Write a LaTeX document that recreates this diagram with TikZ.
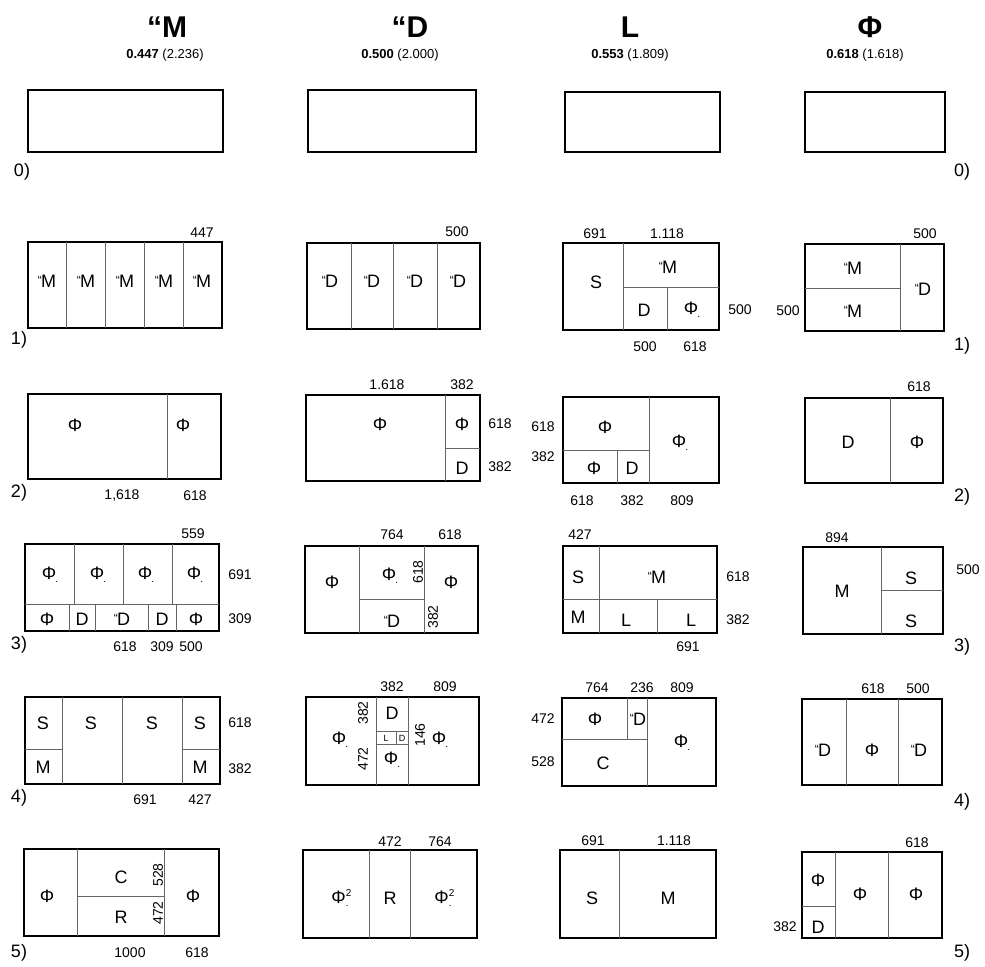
\documentclass[tikz,border=0pt]{standalone}
\usepackage{fontspec}
\setmainfont{Liberation Sans}
\usepackage{tikz}

\newcommand{\Phd}{Φ\kern-0.05em\raisebox{-0.3ex}{\tiny.}}
\newcommand{\Phq}{Φ\rlap{\raisebox{0.8ex}{\tiny 2}}\raisebox{-0.3ex}{\tiny.}}
\newcommand{\qt}{\raisebox{0.25ex}{\fontsize{6}{6}\selectfont “}\kern-0.05em}

\begin{document}
\begin{tikzpicture}[x=0.5pt,y=-0.5pt,
  box/.style={line width=1.25pt},
  part/.style={line width=0.45pt,black!60},
  lab/.style={font=\fontsize{9}{9}\selectfont},
  small/.style={font=\fontsize{4.5}{4.5}\selectfont},
  num/.style={font=\fontsize{7}{7}\selectfont},
  rnum/.style={num,rotate=90},
  idx/.style={font=\fontsize{9}{9}\selectfont},
  head/.style={font=\bfseries\fontsize{15}{15}\selectfont},
  ratio/.style={font=\fontsize{6.5}{6.5}\selectfont}]
  \useasboundingbox (0,0) rectangle (985,967);
  % headers
  \node[head] (hM) at (167,27) {“M};
  \node[head] (hD) at (410,27) {“D};
  \node[head] (hL) at (630,27) {L};
  \node[head] (hF) at (870,27) {Φ};
  \node[ratio] (rM) at (165,55) {\textbf{0.447} (2.236)};
  \node[ratio] (rD) at (400,55) {\textbf{0.500} (2.000)};
  \node[ratio] (rL) at (630,55) {\textbf{0.553} (1.809)};
  \node[ratio] (rF) at (865,55) {\textbf{0.618} (1.618)};
  % row 0
  \draw[box] (28,90) rectangle (223,152);
  \draw[box] (308,90) rectangle (476,152);
  \draw[box] (565,92) rectangle (720,152);
  \draw[box] (805,92) rectangle (945,152);
  \node[idx] (i0a) at (22,172) {0)}; \node[idx] (i0d) at (962,172) {0)};
  % row numbers
  \foreach \r/\y in {1/340,2/493,3/645,4/798,5/953} \node[idx] (ia\r) at (19,\y) {\r)};
  \foreach \r/\y in {1/346,2/497,3/647,4/802,5/953} \node[idx] (id\r) at (962,\y) {\r)};

  % column M
  \draw[box] (28,242) rectangle (222,328);
  \foreach \x in {66,105,144,183} \draw[part] (\x,242)--(\x,328);
  \foreach \x [count=\i] in {47,86,125,164,202} \node[lab] (a1m\i) at (\x,281) {\qt M};
  \node[num] (a1t) at (202,233) {447};

  \draw[box] (28,394) rectangle (221,479);
  \draw[part] (167,394)--(167,479);
  \node[lab] (a2p) at (75,425) {Φ}; \node[lab] (a2q) at (183,425) {Φ};
  \node[num] (a2b) at (122,496) {1,618}; \node[num] (a2c) at (195,496) {618};

  \draw[box] (25,544) rectangle (219,631);
  \draw[part] (25,604)--(219,604);
  \foreach \x in {74,123,172} \draw[part] (\x,544)--(\x,604);
  \foreach \x in {69,95,148,176} \draw[part] (\x,604)--(\x,631);
  \foreach \x [count=\i] in {50,98,146,195} \node[lab] (a3p\i) at (\x,575) {\Phd};
  \node[lab] (a3q) at (47,619) {Φ}; \node[lab] (a3r) at (82,619) {D};
  \node[lab] (a3s) at (122,619) {\qt D}; \node[lab] (a3t) at (162,619) {D};
  \node[lab] (a3u) at (196,619) {Φ};
  \node[num] (a3a) at (193,534) {559};
  \node[num] (a3b) at (240,575) {691}; \node[num] (a3c) at (240,619) {309};
  \node[num] (a3d) at (125,647) {618}; \node[num] (a3e) at (162,647) {309};
  \node[num] (a3f) at (191,647) {500};

  \draw[box] (25,697) rectangle (220,784);
  \foreach \x in {62,122,182} \draw[part] (\x,697)--(\x,784);
  \draw[part] (25,749)--(62,749); \draw[part] (182,749)--(220,749);
  \foreach \x [count=\i] in {43,91,152,200} \node[lab] (a4s\i) at (\x,723) {S};
  \node[lab] (a4m1) at (43,767) {M}; \node[lab] (a4m2) at (200,767) {M};
  \node[num] (a4a) at (240,723) {618}; \node[num] (a4b) at (240,769) {382};
  \node[num] (a4c) at (145,800) {691}; \node[num] (a4d) at (200,800) {427};

  \draw[box] (24,849) rectangle (219,936);
  \draw[part] (77,849)--(77,936); \draw[part] (164,849)--(164,936);
  \draw[part] (77,896)--(164,896);
  \node[lab] (a5p) at (47,896) {Φ}; \node[lab] (a5q) at (193,896) {Φ};
  \node[lab] (a5c) at (121,877) {C}; \node[lab] (a5r) at (121,917) {R};
  \node[rnum] (a5a) at (158,875) {528}; \node[rnum] (a5b) at (158,913) {472};
  \node[num] (a5d) at (130,953) {1000}; \node[num] (a5e) at (197,953) {618};

  % column D
  \draw[box] (307,243) rectangle (480,329);
  \foreach \x in {351,393,437} \draw[part] (\x,243)--(\x,329);
  \foreach \x [count=\i] in {330,372,415,458} \node[lab] (b1d\i) at (\x,281) {\qt D};
  \node[num] (b1t) at (457,232) {500};

  \draw[box] (306,395) rectangle (480,481);
  \draw[part] (445,395)--(445,481); \draw[part] (445,448)--(480,448);
  \node[lab] (b2p) at (380,424) {Φ}; \node[lab] (b2q) at (462,424) {Φ};
  \node[lab] (b2d) at (462,468) {D};
  \node[num] (b2a) at (387,385) {1.618}; \node[num] (b2b) at (462,385) {382};
  \node[num] (b2c) at (500,424) {618}; \node[num] (b2e) at (500,467) {382};

  \draw[box] (305,546) rectangle (478,633);
  \draw[part] (359,546)--(359,633); \draw[part] (424,546)--(424,633);
  \draw[part] (359,599)--(424,599);
  \node[lab] (b3p) at (332,582) {Φ}; \node[lab] (b3q) at (390,576) {\Phd};
  \node[lab] (b3d) at (392,621) {\qt D}; \node[lab] (b3r) at (451,582) {Φ};
  \node[rnum] (b3a) at (418,572) {618}; \node[rnum] (b3b) at (433,617) {382};
  \node[num] (b3c) at (392,535) {764}; \node[num] (b3e) at (450,535) {618};

  \draw[box] (306,697) rectangle (479,785);
  \draw[part] (376,697)--(376,785); \draw[part] (408,697)--(408,785);
  \draw[part] (376,731)--(408,731); \draw[part] (376,744)--(408,744);
  \draw[part] (396,731)--(396,744);
  \node[lab] (b4p) at (340,740) {\Phd}; \node[lab] (b4d) at (392,713) {D};
  \node[small] (b4l) at (386,738) {L}; \node[small] (b4e) at (402,738) {D};
  \node[lab] (b4q) at (392,760) {\Phd}; \node[lab] (b4r) at (440,740) {\Phd};
  \node[rnum] (b4a) at (363,713) {382}; \node[rnum] (b4b) at (363,759) {472};
  \node[rnum] (b4c) at (420,735) {146};
  \node[num] (b4f) at (392,687) {382}; \node[num] (b4g) at (445,687) {809};

  \draw[box] (303,850) rectangle (477,938);
  \draw[part] (369,850)--(369,938); \draw[part] (410,850)--(410,938);
  \node[lab] (b5p) at (340,898) {\Phq}; \node[lab] (b5r) at (390,898) {R};
  \node[lab] (b5q) at (443,898) {\Phq};
  \node[num] (b5a) at (390,842) {472}; \node[num] (b5b) at (440,842) {764};

  % column L
  \draw[box] (563,243) rectangle (719,330);
  \draw[part] (623,243)--(623,330); \draw[part] (623,287)--(719,287);
  \draw[part] (667,287)--(667,330);
  \node[lab] (c1s) at (596,282) {S}; \node[lab] (c1m) at (668,267) {\qt M};
  \node[lab] (c1d) at (644,310) {D}; \node[lab] (c1p) at (692,310) {\Phd};
  \node[num] (c1a) at (595,234) {691}; \node[num] (c1b) at (667,234) {1.118};
  \node[num] (c1c) at (740,310) {500};
  \node[num] (c1e) at (645,347) {500}; \node[num] (c1f) at (695,347) {618};

  \draw[box] (563,397) rectangle (719,483);
  \draw[part] (649,397)--(649,483); \draw[part] (563,450)--(649,450);
  \draw[part] (617,450)--(617,483);
  \node[lab] (c2p) at (605,427) {Φ}; \node[lab] (c2q) at (594,468) {Φ};
  \node[lab] (c2d) at (632,468) {D}; \node[lab] (c2r) at (680,443) {\Phd};
  \node[num] (c2a) at (543,427) {618}; \node[num] (c2b) at (543,457) {382};
  \node[num] (c2c) at (582,501) {618}; \node[num] (c2e) at (632,501) {382};
  \node[num] (c2f) at (682,501) {809};

  \draw[box] (563,546) rectangle (717,633);
  \draw[part] (599,546)--(599,633); \draw[part] (563,599)--(717,599);
  \draw[part] (657,599)--(657,633);
  \node[lab] (c3s) at (578,577) {S}; \node[lab] (c3m) at (657,577) {\qt M};
  \node[lab] (c3n) at (578,617) {M}; \node[lab] (c3l) at (626,620) {L};
  \node[lab] (c3k) at (691,620) {L};
  \node[num] (c3a) at (580,535) {427}; \node[num] (c3b) at (738,577) {618};
  \node[num] (c3c) at (738,620) {382}; \node[num] (c3e) at (688,647) {691};

  \draw[box] (562,698) rectangle (716,786);
  \draw[part] (647,698)--(647,786); \draw[part] (562,739)--(647,739);
  \draw[part] (627,698)--(627,739);
  \node[lab] (c4p) at (595,719) {Φ}; \node[lab] (c4d) at (638,719) {\qt D};
  \node[lab] (c4c) at (603,763) {C}; \node[lab] (c4q) at (682,743) {\Phd};
  \node[num] (c4a) at (597,688) {764}; \node[num] (c4b) at (642,688) {236};
  \node[num] (c4e) at (682,688) {809};
  \node[num] (c4f) at (543,719) {472}; \node[num] (c4g) at (543,762) {528};

  \draw[box] (560,850) rectangle (716,938);
  \draw[part] (619,850)--(619,938);
  \node[lab] (c5s) at (592,898) {S}; \node[lab] (c5m) at (668,898) {M};
  \node[num] (c5a) at (593,841) {691}; \node[num] (c5b) at (674,841) {1.118};

  % column Phi
  \draw[box] (805,244) rectangle (944,331);
  \draw[part] (900,244)--(900,331); \draw[part] (805,288)--(900,288);
  \node[lab] (d1m) at (853,268) {\qt M}; \node[lab] (d1n) at (853,311) {\qt M};
  \node[lab] (d1d) at (923,289) {\qt D};
  \node[num] (d1a) at (925,234) {500}; \node[num] (d1b) at (788,311) {500};

  \draw[box] (805,398) rectangle (943,483);
  \draw[part] (890,398)--(890,483);
  \node[lab] (d2d) at (848,442) {D}; \node[lab] (d2p) at (917,442) {Φ};
  \node[num] (d2a) at (919,387) {618};

  \draw[box] (803,547) rectangle (943,634);
  \draw[part] (881,547)--(881,634); \draw[part] (881,590)--(943,590);
  \node[lab] (d3m) at (842,591) {M}; \node[lab] (d3s) at (911,578) {S};
  \node[lab] (d3t) at (911,621) {S};
  \node[num] (d3a) at (837,538) {894}; \node[num] (d3b) at (968,570) {500};

  \draw[box] (802,699) rectangle (942,785);
  \draw[part] (846,699)--(846,785); \draw[part] (898,699)--(898,785);
  \node[lab] (d4d) at (823,750) {\qt D}; \node[lab] (d4p) at (872,750) {Φ};
  \node[lab] (d4e) at (919,750) {\qt D};
  \node[num] (d4a) at (873,689) {618}; \node[num] (d4b) at (918,689) {500};

  \draw[box] (802,852) rectangle (942,938);
  \draw[part] (835,852)--(835,938); \draw[part] (888,852)--(888,938);
  \draw[part] (802,906)--(835,906);
  \node[lab] (d5p) at (818,880) {Φ}; \node[lab] (d5d) at (818,927) {D};
  \node[lab] (d5q) at (860,894) {Φ}; \node[lab] (d5r) at (916,894) {Φ};
  \node[num] (d5a) at (917,843) {618}; \node[num] (d5b) at (785,927) {382};
\end{tikzpicture}
\end{document}
